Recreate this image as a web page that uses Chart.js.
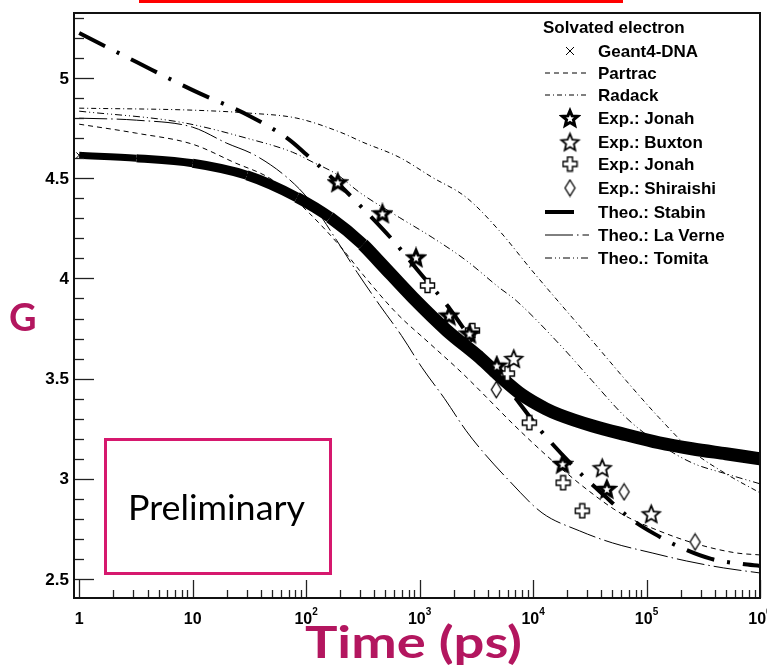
<!DOCTYPE html>
<html>
<head>
<meta charset="utf-8">
<title>Solvated electron - G value vs time</title>
<script src="https://cdn.jsdelivr.net/npm/chart.js@4.4.1/dist/chart.umd.min.js"></script>
<style>
  html, body { margin: 0; padding: 0; background: #fff; }
  canvas { display: block; }
</style>
</head>
<body>
<canvas id="myChart" width="767" height="671"></canvas>
<script>
// Values: time in ps, G in molecules / 100 eV
const geantT = [1, 3.2, 10, 30, 83, 162, 316, 447, 871, 1740, 3390, 5370, 7940, 12900, 17000, 33100, 66100, 129000, 251000, 501000, 1000000];
const geantG = [4.615, 4.60, 4.575, 4.515, 4.405, 4.305, 4.17, 4.08, 3.905, 3.74, 3.605, 3.50, 3.42, 3.35, 3.32, 3.265, 3.22, 3.18, 3.15, 3.125, 3.10];

const partracT = [1, 3.2, 10, 23, 51, 107, 200, 316, 631, 1230, 2400, 4790, 6610, 14800, 30900, 60300, 129000, 275000, 617000, 1000000];
const partracG = [4.77, 4.725, 4.67, 4.58, 4.49, 4.325, 4.16, 4.02, 3.825, 3.675, 3.525, 3.355, 3.275, 3.09, 2.94, 2.825, 2.74, 2.675, 2.63, 2.62];

const radackT = [1, 10, 32, 83, 200, 316, 661, 1290, 2570, 5010, 9770, 17000, 33100, 66100, 129000, 251000, 501000, 1000000];
const radackG = [4.85, 4.84, 4.825, 4.80, 4.73, 4.68, 4.605, 4.505, 4.405, 4.24, 4.04, 3.88, 3.69, 3.49, 3.305, 3.14, 3.025, 2.93];

const jonahStarT = [190, 470, 930, 1820, 2750, 4790, 18200, 44700];
const jonahStarG = [4.48, 4.325, 4.105, 3.815, 3.725, 3.565, 3.075, 2.95];

const buxtonT = [6760, 40700, 110000];
const buxtonG = [3.60, 3.055, 2.825];

const jonahCrossT = [1175, 2920, 5930, 9270, 18400, 27100];
const jonahCrossG = [3.965, 3.74, 3.525, 3.28, 2.98, 2.84];

const shiraishiT = [4740, 63400, 268000];
const shiraishiG = [3.445, 2.935, 2.685];

const stabinT = [1, 3.2, 10, 32, 68, 100, 186, 316, 562, 1000, 1780, 3160, 7080, 11700, 26900, 42700, 70800, 117500, 204000, 372000, 692000, 1000000];
const stabinG = [5.225, 5.08, 4.94, 4.81, 4.70, 4.62, 4.48, 4.35, 4.20, 4.03, 3.86, 3.66, 3.40, 3.24, 3.02, 2.915, 2.805, 2.725, 2.655, 2.60, 2.575, 2.565];

const laverneT = [1, 3.2, 10, 20, 35.5, 67.6, 107, 186, 282, 447, 692, 1050, 1660, 2570, 3550, 6170, 12000, 25700, 50100, 112000, 224000, 479000, 1000000];
const laverneG = [4.80, 4.79, 4.755, 4.675, 4.615, 4.505, 4.39, 4.19, 4.03, 3.865, 3.715, 3.555, 3.40, 3.24, 3.14, 2.99, 2.83, 2.74, 2.68, 2.63, 2.59, 2.555, 2.53];

const tomitaT = [1, 7.8, 30, 76, 115, 186, 295, 661, 1290, 2570, 5010, 7080, 18200, 33100, 66100, 129000, 251000, 501000, 1000000];
const tomitaG = [4.835, 4.78, 4.70, 4.63, 4.58, 4.52, 4.43, 4.305, 4.205, 4.09, 3.955, 3.89, 3.655, 3.49, 3.305, 3.175, 3.08, 3.025, 2.975];

// Axis ticks
const xTickValues = [1, 10, 100, 1000, 10000, 100000, 1000000];
const xTickBase = ['1', '10', '10', '10', '10', '10', '10'];
const xTickPower = ['', '', '2', '3', '4', '5', '6'];
const yTickValues = [2.5, 3, 3.5, 4, 4.5, 5];
const yTickLabels = ['2.5', '3', '3.5', '4', '4.5', '5'];

const pts = (t, g) => t.map((v, i) => ({ x: v, y: g[i] }));

// marker images
function makeStar(R, lw) {
  const s = Math.ceil(2 * R + lw + 3);
  const c = document.createElement('canvas');
  c.width = s; c.height = s;
  const g = c.getContext('2d');
  g.translate(s / 2, s / 2 + R * 0.1);
  g.beginPath();
  for (let i = 0; i < 10; i++) {
    const r = i % 2 ? R * 0.45 : R;
    const a = -Math.PI / 2 + i * Math.PI / 5;
    g.lineTo(r * Math.cos(a), r * Math.sin(a));
  }
  g.closePath();
  g.fillStyle = '#fff'; g.fill();
  g.lineWidth = lw; g.strokeStyle = '#000'; g.stroke();
  return c;
}
function makeCross(size, arm) {
  const c = document.createElement('canvas');
  c.width = size + 3; c.height = size + 3;
  const g = c.getContext('2d');
  const h = size / 2, a = arm / 2;
  g.translate(c.width / 2, c.height / 2);
  g.beginPath();
  g.moveTo(-a, -h); g.lineTo(a, -h); g.lineTo(a, -a); g.lineTo(h, -a); g.lineTo(h, a);
  g.lineTo(a, a); g.lineTo(a, h); g.lineTo(-a, h); g.lineTo(-a, a); g.lineTo(-h, a);
  g.lineTo(-h, -a); g.lineTo(-a, -a); g.closePath();
  g.fillStyle = '#fff'; g.fill();
  g.lineWidth = 1.4; g.strokeStyle = '#000'; g.stroke();
  return c;
}
function makeDiamond(w, h) {
  const c = document.createElement('canvas');
  c.width = w + 3; c.height = h + 3;
  const g = c.getContext('2d');
  g.translate(c.width / 2, c.height / 2);
  g.beginPath();
  g.moveTo(0, -h / 2); g.lineTo(w / 2, 0); g.lineTo(0, h / 2); g.lineTo(-w / 2, 0); g.closePath();
  g.fillStyle = '#fff'; g.fill();
  g.lineWidth = 1.3; g.strokeStyle = '#000'; g.stroke();
  return c;
}
const boldStar = makeStar(8, 3);
const openStar = makeStar(9, 1.8);
const openCross = makeCross(14, 5);
const diamond = makeDiamond(10, 16);

function thinLine(label, t, g, dash) {
  return {
    label: label, data: pts(t, g), borderColor: '#000', borderWidth: 1,
    borderDash: dash, pointRadius: 0, cubicInterpolationMode: 'monotone',
    fill: false, clip: 0, order: 3
  };
}
function markers(label, t, g, img) {
  return {
    label: label, data: pts(t, g), showLine: false, pointStyle: img,
    pointRadius: 6, order: 0, clip: false
  };
}

// band gets thicker as the curve drops
function geantWidth(ctx) {
  const t = ctx.p1.parsed.x;
  if (t <= 3.2) return 7;
  if (t <= 10) return 8;
  if (t <= 30) return 9;
  if (t <= 83) return 10;
  if (t <= 162) return 11;
  if (t <= 316) return 12;
  return 13;
}

const datasets = [
  {
    label: 'Geant4-DNA', data: pts(geantT, geantG), borderColor: '#000',
    borderWidth: 12, pointStyle: 'crossRot', pointRadius: 4, pointBorderWidth: 1,
    pointBorderColor: '#000', cubicInterpolationMode: 'monotone', clip: 0, order: 2,
    segment: { borderWidth: geantWidth }
  },
  thinLine('Partrac', partracT, partracG, [5, 4]),
  thinLine('Radack', radackT, radackG, [5, 3, 1, 3]),
  markers('Exp.: Jonah', jonahStarT, jonahStarG, boldStar),
  markers('Exp.: Buxton', buxtonT, buxtonG, openStar),
  markers('Exp.: Jonah', jonahCrossT, jonahCrossG, openCross),
  markers('Exp.: Shiraishi', shiraishiT, shiraishiG, diamond),
  {
    label: 'Theo.: Stabin', data: pts(stabinT, stabinG), borderColor: '#000', borderWidth: 4,
    borderDash: [29, 13, 3, 13], pointRadius: 0, cubicInterpolationMode: 'monotone', clip: 0, order: 1
  },
  thinLine('Theo.: La Verne', laverneT, laverneG, [28, 4, 1.5, 4]),
  thinLine('Theo.: Tomita', tomitaT, tomitaG, [7, 3, 1, 3, 1, 3])
];

const LEGEND_FONT = 'bold 17px "Liberation Sans", Arial, sans-serif';

// frame, inward ticks and tick labels
const framePlugin = {
  id: 'frame',
  afterDraw(chart) {
    const ctx = chart.ctx, a = chart.chartArea;
    const xs = chart.scales.x, ys = chart.scales.y;
    ctx.save();
    ctx.strokeStyle = '#222';
    ctx.lineWidth = 1.3;
    // y ticks every 0.1
    for (let k = 25; k <= 53; k++) {
      const v = k / 10;
      const py = Math.round(ys.getPixelForValue(v)) + 0.5;
      const major = k % 5 === 0;
      ctx.beginPath(); ctx.moveTo(a.left, py); ctx.lineTo(a.left + (major ? 20 : 10), py); ctx.stroke();
    }
    // x ticks per decade
    xTickValues.forEach((d, i) => {
      const px = Math.round(xs.getPixelForValue(d)) + 0.5;
      ctx.beginPath(); ctx.moveTo(px, a.bottom); ctx.lineTo(px, a.bottom - 18); ctx.stroke();
      if (i < xTickValues.length - 1) {
        for (let k = 2; k <= 9; k++) {
          const mx = Math.round(xs.getPixelForValue(d * k)) + 0.5;
          ctx.beginPath(); ctx.moveTo(mx, a.bottom); ctx.lineTo(mx, a.bottom - 8); ctx.stroke();
        }
      }
    });
    // frame
    ctx.strokeStyle = '#111';
    ctx.lineWidth = 2;
    ctx.strokeRect(a.left, a.top, a.right - a.left, a.bottom - a.top);

    // tick labels
    ctx.fillStyle = '#000';
    ctx.font = 'bold 17px "Liberation Sans", Arial, sans-serif';
    ctx.textAlign = 'right';
    ctx.textBaseline = 'middle';
    yTickValues.forEach((v, i) => {
      ctx.fillText(yTickLabels[i], 69, ys.getPixelForValue(v) + 1);
    });
    ctx.textAlign = 'left';
    xTickValues.forEach((v, i) => {
      const px = xs.getPixelForValue(v);
      ctx.font = 'bold 16px "Liberation Sans", Arial, sans-serif';
      const wb = ctx.measureText(xTickBase[i]).width;
      ctx.font = 'bold 10px "Liberation Sans", Arial, sans-serif';
      const wp = xTickPower[i] ? ctx.measureText(xTickPower[i]).width : 0;
      const x0 = px - (wb + wp) / 2;
      ctx.font = 'bold 16px "Liberation Sans", Arial, sans-serif';
      ctx.fillText(xTickBase[i], x0, 620);
      if (xTickPower[i]) {
        ctx.font = 'bold 10px "Liberation Sans", Arial, sans-serif';
        ctx.fillText(xTickPower[i], x0 + wb, 612);
      }
    });
    ctx.restore();
  }
};

// legend inside the plot, top right
const legendPlugin = {
  id: 'insideLegend',
  afterDraw(chart) {
    const ctx = chart.ctx;
    const rows = [51, 73, 95, 118, 142, 164, 188, 212, 235, 258];
    ctx.save();
    ctx.fillStyle = '#000';
    ctx.strokeStyle = '#000';
    ctx.font = LEGEND_FONT;
    ctx.textBaseline = 'middle';
    ctx.textAlign = 'left';
    ctx.fillText('Solvated electron', 543, 28);
    chart.data.datasets.forEach((ds, i) => {
      const yy = rows[i];
      ctx.fillText(ds.label, 598, yy + 1);
      if (i === 0) {
        ctx.lineWidth = 1;
        ctx.beginPath();
        ctx.moveTo(566, yy - 4); ctx.lineTo(574, yy + 4);
        ctx.moveTo(574, yy - 4); ctx.lineTo(566, yy + 4);
        ctx.stroke();
      } else if (ds.showLine === false) {
        const img = ds.pointStyle;
        ctx.drawImage(img, 570 - img.width / 2, yy - img.height / 2);
      } else {
        ctx.lineWidth = ds.borderWidth;
        ctx.setLineDash(ds.borderDash || []);
        ctx.beginPath();
        ctx.moveTo(545, yy); ctx.lineTo(ds.borderWidth > 2 ? 578 : 589, yy);
        ctx.stroke();
        ctx.setLineDash([]);
      }
    });
    ctx.restore();
  }
};

// axis titles, preliminary stamp, red bar at top
const notesPlugin = {
  id: 'notes',
  afterDraw(chart) {
    const ctx = chart.ctx;
    ctx.save();
    ctx.fillStyle = '#ff0000';
    ctx.fillRect(139, 0, 484, 3);

    ctx.fillStyle = '#b3165f';
    ctx.textBaseline = 'alphabetic';
    ctx.textAlign = 'left';
    ctx.font = 'bold 38px Lato, "Open Sans", sans-serif';
    ctx.fillText('G', 9, 331);

    ctx.font = 'bold 43px Lato, "Open Sans", sans-serif';
    const tw = ctx.measureText('Time (ps)').width;
    ctx.save();
    ctx.translate(305, 658);
    ctx.scale(217 / tw, 1);
    ctx.fillText('Time (ps)', 0, 0);
    ctx.restore();

    ctx.strokeStyle = '#d6186e';
    ctx.lineWidth = 3;
    ctx.strokeRect(105.5, 439.5, 225, 134);
    ctx.fillStyle = '#000';
    ctx.font = '34px Lato, "Open Sans", sans-serif';
    const pw = ctx.measureText('Preliminary').width;
    ctx.save();
    ctx.translate(128, 520);
    ctx.scale(177 / pw, 1);
    ctx.fillText('Preliminary', 0, 0);
    ctx.restore();
    ctx.restore();
  }
};

const config = {
  type: 'line',
  data: { datasets: datasets },
  options: {
    responsive: false,
    animation: false,
    layout: { padding: { left: 74, right: 7, top: 13, bottom: 73 } },
    plugins: { legend: { display: false }, tooltip: { enabled: false } },
    scales: {
      x: { type: 'logarithmic', min: 0.9, max: 1000000, display: false },
      y: { type: 'linear', min: 2.405, max: 5.325, display: false }
    }
  },
  plugins: [framePlugin, legendPlugin, notesPlugin]
};

const myChart = new Chart(document.getElementById('myChart'), config);
</script>
</body>
</html>
